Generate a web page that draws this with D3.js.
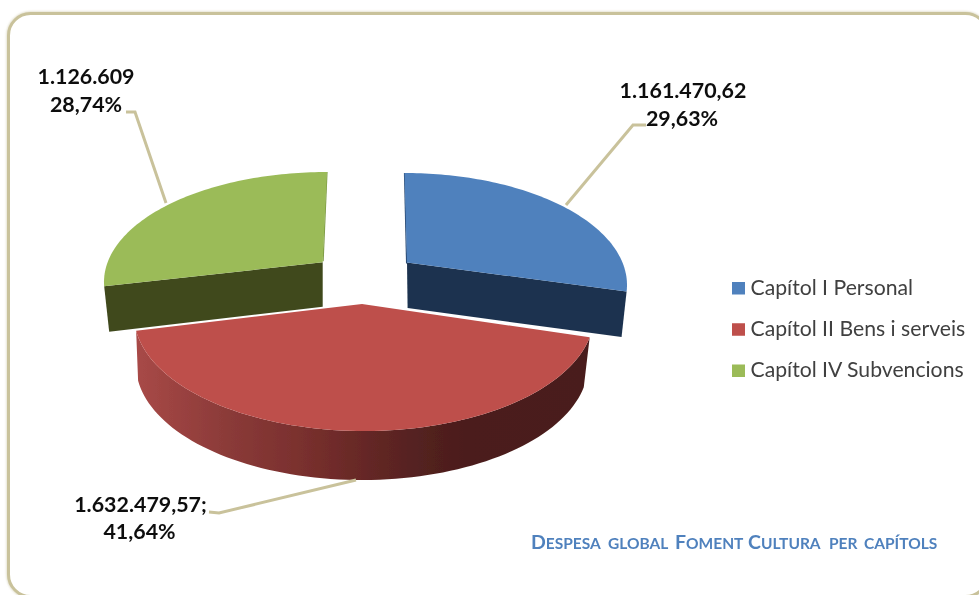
<!DOCTYPE html>
<html><head><meta charset="utf-8">
<script src="https://cdn.jsdelivr.net/npm/d3@7/dist/d3.min.js"></script>
<style>html,body{margin:0;padding:0;background:#fff;overflow:hidden}svg{display:block}text{font-family:Lato,"Open Sans",sans-serif}</style>
</head><body><svg id="c" width="979" height="595"></svg>
<script>
const categories = ["Capítol I Personal", "Capítol II Bens i serveis", "Capítol IV Subvencions"];
const values = [1161470.62, 1632479.57, 1126609];
const valueLabels = ["1.161.470,62", "1.632.479,57;", "1.126.609"];
const percentLabels = ["29,63%", "41,64%", "28,74%"];
const titleWords = [["D", "ESPESA"], ["", "GLOBAL"], ["F", "OMENT"], ["C", "ULTURA"], ["", "PER"], ["", "CAPÍTOLS"]];

const topColor = d3.scaleOrdinal(categories, ["#4F81BD", "#BE4F4B", "#9BBB59"]);
const sideColor = d3.scaleOrdinal(categories, ["#1D334F", "url(#redSide)", "#40491F"]);
const frameColor = "#C9C29B";

const svg = d3.select("#c");
const defs = svg.append("defs");
const grad = defs.append("linearGradient").attr("id", "redSide").attr("gradientUnits", "userSpaceOnUse")
  .attr("x1", 136).attr("x2", 588).attr("y1", 0).attr("y2", 0);
[[0, "#A84947"], [.208, "#8A3A38"], [.363, "#7A302E"], [.518, "#642725"], [.628, "#532120"], [.739, "#4B1D1B"], [1, "#4A1C1A"]]
  .forEach(([o, c]) => grad.append("stop").attr("offset", o).attr("stop-color", c));
const mkBlur = (id, sd) => defs.append("filter").attr("id", id).attr("x", "-5%").attr("y", "-5%").attr("width", "110%").attr("height", "110%")
  .append("feGaussianBlur").attr("stdDeviation", sd);
mkBlur("soft", 0.5); mkBlur("frameShadow", 1.2); mkBlur("textSoft", 0.3);

// frame
svg.append("rect").attr("x", 8.5).attr("y", 13.5).attr("width", 979).attr("height", 583).attr("rx", 22)
  .attr("fill", "none").attr("stroke", "#DDD9C3").attr("stroke-width", 4).attr("filter", "url(#frameShadow)");
svg.append("rect").attr("x", 8.5).attr("y", 13.5).attr("width", 979).attr("height", 583).attr("rx", 22)
  .attr("fill", "#fff").attr("stroke", frameColor).attr("stroke-width", 3);

// 3D pie: each exploded slice lies on its own projected ellipse
const ellipse = [
  {cx: 404.5, cy: 285, a: 222.5, b: 112, k: 0.79},
  {cx: 364,   cy: 315, a: 230,   b: 116, k: 0.905},
  {cx: 327,   cy: 282, a: 223,   b: 110, k: 0.82}];
const lowerEllipse = {cx: 362, cy: 365, a: 226, b: 115};
const apex = [[407, 262.5], [362, 304], [322.7, 262.3]];
const wallDepth = 45.5, wallPull = 0.023;

const phi = (theta, k) => 2 * Math.atan2(k * Math.sin(theta / 2), Math.cos(theta / 2));
const onEllipse = (e, k, theta) => { const f = phi(theta, k); return [e.cx + e.a * Math.sin(f), e.cy - e.b * Math.cos(f)]; };
const pie = d3.pie().sort(null).value(d => d)(values);
const line = d3.line();
const arcPts = (e, k, a0, a1) => d3.range(0, 81).map(n => onEllipse(e, k, a0 + (a1 - a0) * n / 80));
const dropWall = (p, c) => [p[0] + (c[0] - p[0]) * wallPull, p[1] + wallDepth];

const slices = svg.append("g").attr("filter", "url(#soft)");
[0, 2, 1].forEach(i => {
  const p = pie[i], cat = categories[i], g = slices.append("g"), e = ellipse[i], k = e.k;
  const a0 = p.startAngle, a1 = p.endAngle, C = apex[i];
  if (i === 1) {
    g.append("path").attr("fill", sideColor(cat))
      .attr("d", line(arcPts(e, k, a0, a1).concat(arcPts(lowerEllipse, k, a1, a0))) + "Z");
  } else {
    const edge = onEllipse(e, k, i === 0 ? a1 : a0);
    g.append("path").attr("fill", sideColor(cat))
      .attr("d", line([C, edge, dropWall(edge, C), [C[0] + (i === 0 ? 0.6 : 0), C[1] + wallDepth - (i === 0 ? 0 : 1)]]) + "Z");
    const back = onEllipse(e, k, i === 0 ? a0 : a1);
    g.append("path").attr("fill", "none")
      .attr("stroke", i === 0 ? "#2A4A72" : "#7D9A45").attr("stroke-width", 1.2)
      .attr("d", line([back, [C[0] + (i === 0 ? -0.4 : 0.4), C[1] + (i === 0 ? 1 : -1)]]));
  }
  g.append("path").attr("fill", topColor(cat)).attr("d", line([C].concat(arcPts(e, k, a0, a1))) + "Z");
});

// leader lines
const leaders = [[[566, 205], [633, 125], [646, 125]], [[356, 480], [219, 513], [209, 512]], [[166, 203], [135, 112], [126, 112]]];
svg.append("g").selectAll("path").data(leaders).join("path")
  .attr("d", d => line(d)).attr("fill", "none").attr("stroke", frameColor).attr("stroke-width", 3);

const textLayer = svg.append("g").attr("filter", "url(#textSoft)");

// data labels
const labelPos = [[683, 98, 682, 125.5], [140.5, 511.5, 139.5, 539], [86, 83.5, 86, 111.5]];
const labels = textLayer.append("g").attr("font-weight", 700).attr("font-size", 21.4).attr("fill", "#111").attr("text-anchor", "middle");
categories.forEach((c, i) => {
  labels.append("text").attr("x", labelPos[i][0]).attr("y", labelPos[i][1]).text(valueLabels[i]);
  labels.append("text").attr("x", labelPos[i][2]).attr("y", labelPos[i][3]).text(percentLabels[i]);
});

// legend
const legendY = d3.scalePoint(categories, [294.5, 377]);
const legend = textLayer.append("g").selectAll("g").data(categories).join("g");
legend.append("rect").attr("x", 732).attr("y", d => legendY(d) - 12.5).attr("width", 13).attr("height", 12.5).attr("fill", d => topColor(d));
legend.append("text").attr("x", 750.5).attr("y", d => legendY(d)).attr("font-size", 21.2).attr("fill", "#404040").text(d => d);

// title
const titleX = [531, 608, 675, 748, 829, 864];
const title = textLayer.append("text").attr("y", 548.5).attr("font-weight", 700).attr("fill", "#4F81BD");
titleWords.forEach(([cap, rest], i) => {
  const t = title.append("tspan").attr("x", titleX[i]);
  if (cap) { t.attr("font-size", 19.5).text(cap); title.append("tspan").attr("font-size", 15.5).text(rest); }
  else t.attr("font-size", 15.5).text(rest);
});
</script></body></html>
